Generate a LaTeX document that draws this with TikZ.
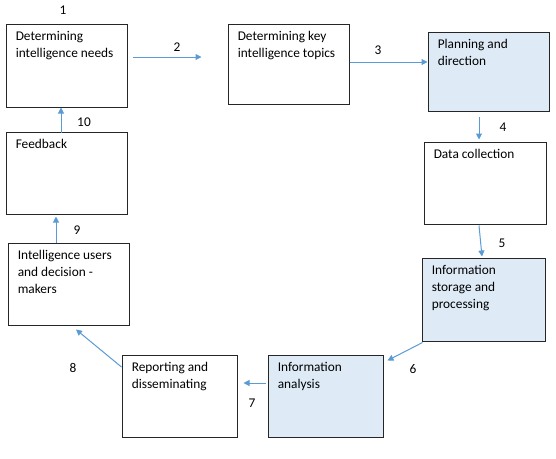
\documentclass[tikz,border=0pt]{standalone}
\usepackage{fontspec}
\setmainfont{Carlito}
\usetikzlibrary{arrows.meta,calc}
\definecolor{flowblue}{RGB}{91,155,213}
\definecolor{paleblue}{RGB}{222,235,247}

\begin{document}
\begin{tikzpicture}[x=0.75pt, y=-0.75pt, font=\fontsize{10}{12.75}\selectfont, stage/.style={draw=black!85, line width=0.75pt, minimum width=90.75pt, minimum height=61.5pt, inner sep=0pt}, shaded/.style={stage, fill=paleblue}, stagetext/.style={anchor=north west, align=left, inner sep=0pt, xshift=7.5pt, yshift=-5.5pt}, flow/.style={draw=flowblue, line width=0.75pt, -{Triangle[length=4.5pt,width=4.5pt]}}, num/.style={inner sep=0pt}]
  \useasboundingbox (0,0) rectangle (556,458);
  % the stages of the cycle
  \node[stage, minimum height=62.25pt, label={[stagetext]north west:Determining\\intelligence needs}] (needs) at (66.5,65.5) {};
  \node[stage, minimum height=60pt, label={[stagetext]north west:Determining key\\intelligence topics}] (topics) at (288.5,64) {};
  \node[shaded, minimum height=59.25pt, label={[stagetext]north west:Planning and\\direction}] (planning) at (488.5,71.5) {};
  \node[stage, minimum width=91.5pt, label={[stagetext]north west:Data collection}] (collection) at (485,183) {};
  \node[shaded, minimum width=92.25pt, minimum height=62.25pt, label={[stagetext]north west:Information\\storage and\\processing}] (storage) at (483.5,299.5) {};
  \node[shaded, minimum width=86.25pt, label={[stagetext]north west:Information\\analysis}] (analysis) at (325.5,396) {};
  \node[stage, minimum width=86.25pt, label={[stagetext]north west:Reporting and\\disseminating}] (reporting) at (179.5,396) {};
  \node[stage, label={[stagetext]north west:Intelligence users\\and decision -\\makers}] (users) at (68.5,284) {};
  \node[stage, label={[stagetext]north west:Feedback}] (feedback) at (66.5,173) {};

  % arrows between stages
  \draw[flow] ($(needs.east)+(5,-8.5)$) -- ($(topics.west)+(-26,-7)$);
  \draw[flow] ($(topics.east)+(0,-2)$) -- ($(planning.west)+(0,-9.5)$);
  \draw[flow] ($(planning.south)+(-9.5,5)$) -- ($(collection.north)+(-6,-2)$);
  \draw[flow] ($(collection.south)+(-6,1)$) -- ($(storage.north)+(-1.5,-1)$);
  \draw[flow] ($(storage.south west)+(1,1)$) -- ($(analysis.north east)+(4,6)$);
  \draw[flow] ($(analysis.west)+(-2,-13)$) -- ($(reporting.east)+(6,-13)$);
  \draw[flow] ($(reporting.west)+(0,-29)$) -- ($(users.south)+(7.5,4)$);
  \draw[flow] ($(users.north)+(-12.5,0)$) -- ($(feedback.south)+(-10.5,2)$);
  \draw[flow] ($(feedback.north)+(-5.5,1)$) -- ($(needs.south)+(-5.5,0)$);

  % step numbers
  \node[num] (n1) at (63,10) {1};
  \node[num] (n2) at (177,47) {2};
  \node[num] (n3) at (378,50) {3};
  \node[num] (n4) at (503,127) {4};
  \node[num] (n5) at (502,243) {5};
  \node[num] (n6) at (413,369) {6};
  \node[num] (n7) at (252,403) {7};
  \node[num] (n8) at (73,368) {8};
  \node[num] (n9) at (77,230) {9};
  \node[num] (n10) at (84,122) {10};
\end{tikzpicture}
\end{document}
